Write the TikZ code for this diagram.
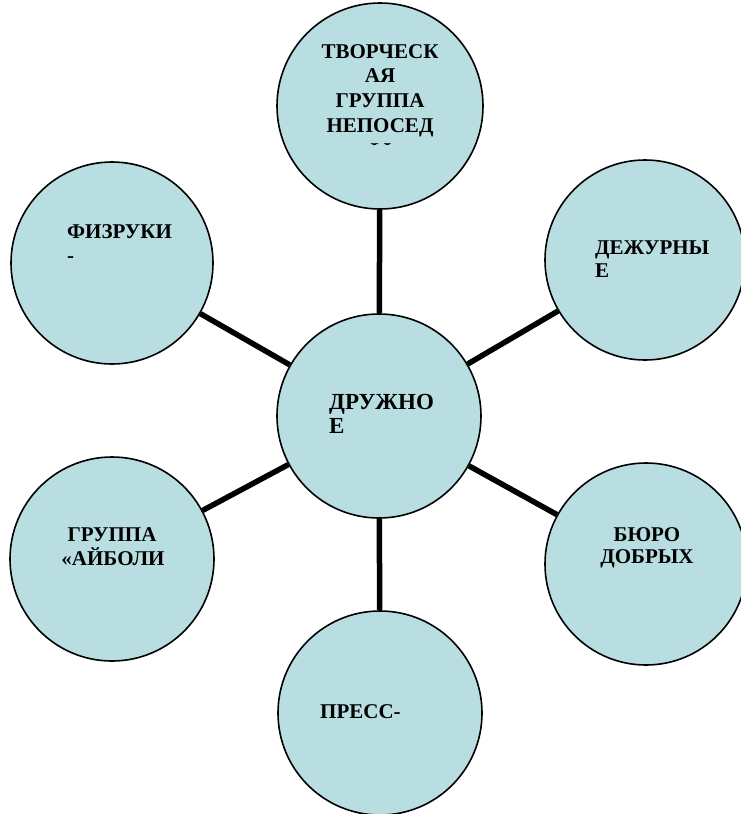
\documentclass[tikz,border=0pt]{standalone}
\usepackage{fontspec}
\setmainfont{Liberation Serif}
\definecolor{fillc}{RGB}{184,222,226}
\begin{document}
\begin{tikzpicture}[x=1pt,y=-1pt,
  circ/.style={circle,draw=black,line width=1.6pt,fill=fillc,inner sep=0pt},
  conn/.style={line width=5.5pt,black},
  lbl/.style={font=\fontsize{21}{24}\selectfont\bfseries,inner sep=0pt,anchor=base west},
  lblc/.style={lbl,anchor=base},
  clbl/.style={lbl,font=\fontsize{23}{24}\selectfont\bfseries}]
\useasboundingbox (0,0) rectangle (740,814);
% circles
\node[circ,minimum size=206pt] (top) at (380,106) {};
\node[circ,minimum size=200pt] (ur) at (645,260) {};
\node[circ,minimum size=202pt] (ul) at (112,263) {};
\node[circ,minimum size=204pt] (ctr) at (379,416) {};
\node[circ,minimum size=204pt] (ll) at (112,559) {};
\node[circ,minimum size=202pt] (lr) at (646,564) {};
\node[circ,minimum size=204pt] (bot) at (380,713) {};
% connectors
\draw[conn] (ctr) -- (top);
\draw[conn] (ctr) -- (ur);
\draw[conn] (ctr) -- (ul);
\draw[conn] (ctr) -- (ll);
\draw[conn] (ctr) -- (lr);
\draw[conn] (ctr) -- (bot);
% labels
\node[lblc] (t1) at (380,58) {ТВОРЧЕСК};
\node[lblc] (t2) at (380,82) {АЯ};
\node[lblc] (t3) at (380,107) {ГРУППА};
\node[lblc] (t4) at (380,132) {НЕПОСЕД};
\begin{scope}
\clip (280,0) rectangle (480,144);
\node[lblc] (t5) at (381,157) {Ы};
\end{scope}
\node[lbl] (ur1) at (595,254) {ДЕЖУРНЫ};
\node[lbl] (ur2) at (595,277) {Е};
\node[lbl] (ul1) at (67,238) {ФИЗРУКИ};
\node[lbl] (ul2) at (67,262) {-};
\node[clbl] (c1) at (329,409) {ДРУЖНО};
\node[clbl] (c2) at (329,433) {Е};
\node[lblc] (ll1) at (112,541) {ГРУППА};
\node[lblc] (ll2) at (113,565) {«АЙБОЛИ};
\node[lblc] (lr1) at (647,541) {БЮРО};
\node[lblc] (lr2) at (647,563) {ДОБРЫХ};
\node[lbl] (b1) at (320,718) {ПРЕСС-};
\end{tikzpicture}
\end{document}
